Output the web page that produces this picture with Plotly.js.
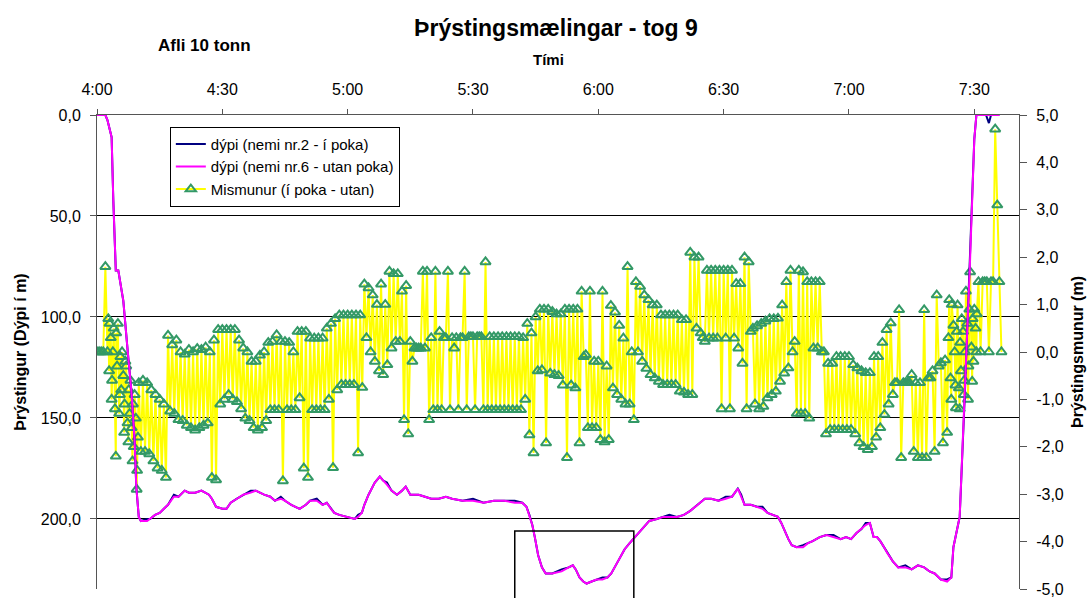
<!DOCTYPE html>
<html>
<head>
<meta charset="utf-8">
<script src="https://cdn.plot.ly/plotly-3.0.1.min.js"></script>
<style>
html,body{margin:0;padding:0;background:#fff;}
#chart{width:1091px;height:598px;}
</style>
</head>
<body>
<div id="chart"></div>
<script>
// ---------- Tick labels ----------
const xTickMin = [0, 30, 60, 90, 120, 150, 180, 210];          // minutes after 4:00
const xTickText = ['4:00', '4:30', '5:00', '5:30', '6:00', '6:30', '7:00', '7:30'];
const depthTickVals = [0, 50, 100, 150, 200];
const depthTickText = ['0,0', '50,0', '100,0', '150,0', '200,0'];
const diffTickVals = [5, 4, 3, 2, 1, 0, -1, -2, -3, -4, -5];
const diffTickText = ['5,0', '4,0', '3,0', '2,0', '1,0', '0,0', '-1,0', '-2,0', '-3,0', '-4,0', '-5,0'];

// ---------- Depth series (minutes after 4:00, depth in m) ----------
const depthMin = [
  0, 2, 2.5, 3.1, 3.5, 3.9, 4.5, 5.1, 5.5, 6.3,
  7.4, 8.2, 9.0, 9.4, 10, 10.5, 12, 12.7, 13.9, 15,
  16, 17, 18.4, 19.5, 21, 22, 23.5, 25, 26.8, 27.5,
  28.5, 30, 31, 32, 33.5, 35, 36.8, 38, 40, 41.5,
  42.6, 44, 45, 46.5, 48.5, 50, 51, 52.6, 54, 55,
  56, 56.8, 58, 60, 61.7, 62.5, 63.4, 64, 65, 66.5,
  67.7, 68.5, 69.4, 70.5, 71.8, 73, 73.9, 75, 75.6, 77,
  78.5, 80, 81.8, 83.5, 85, 87.5, 90, 92.5, 95, 97.5,
  100, 101.8, 102.8, 103.5, 104.2, 104.8, 105.6, 106.5, 107.4, 109,
  111.2, 112.9, 113.9, 114.6, 115.5, 116.4, 117.2, 118.4, 119.6, 121,
  122.2, 123.1, 123.9, 125, 126.3, 127.5, 128.8, 130.5, 132.2, 134,
  135.5, 137, 138.8, 140.5, 142, 143.8, 145.5, 147, 148.8, 150.5,
  152, 153.4, 154.2, 155, 156.5, 158, 159.3, 160.5, 161.8, 163,
  163.8, 164.6, 165.5, 166.3, 167.5, 169, 170.2, 171.3, 173, 174.6,
  176.3, 178, 179.3, 180.5, 181.8, 183, 184, 185, 185.9, 186.7,
  187.5, 188.4, 189.2, 190.5, 191.8, 193.5, 195, 196.5, 198, 199.3,
  200.5, 202, 203.5, 204.5, 205, 206.5, 207.7, 208.9, 210, 210.5,
  212.8, 213.5, 214, 216
];
// nemi nr.2 (í poka) - navy
const depthNemi2 = [
  0, 0, 2.5, 8, 11, 42, 77, 77, 82, 92,
  118, 136, 161, 184, 199, 201, 200, 200, 198, 197,
  195, 193, 188, 189, 186, 187, 187, 186, 188, 190,
  194, 195, 195, 192, 190, 188, 186, 186, 188, 189,
  191, 189, 191, 193, 195, 193, 191, 190, 193, 192,
  195, 197, 198, 199, 200, 198, 197, 193, 188, 182,
  179, 181, 182, 186, 188, 186, 184, 188, 188, 188,
  189, 190, 190, 189, 190, 191, 190, 192, 191, 191,
  191, 192, 194, 198, 203, 209, 218, 224, 227, 227,
  225, 224, 223, 225, 229, 231, 232, 231, 230, 229,
  229, 227, 224, 220, 215, 212, 209, 205, 201, 200,
  199, 198, 199, 198, 196, 193, 190, 190, 191, 189,
  189, 185, 188, 193, 193, 194, 194, 197, 198, 199,
  202, 206, 210, 213, 214, 213, 212, 211, 209, 208,
  208, 210, 209, 210, 207, 205, 202, 202, 209, 209,
  211, 214, 217, 221, 224, 223, 225, 223, 224, 226,
  227, 230, 230, 229, 214, 199, 140, 77, 12, 0,
  0, 4, 0, 0
];
// nemi nr.6 (utan poka) - magenta
const depthNemi6 = [
  0, 0, 2.5, 8, 11, 42, 77, 77, 82, 92,
  118, 136, 161, 184, 199, 201, 201, 200, 198, 197,
  195, 193, 189, 189, 186, 187, 187, 186, 188, 190,
  194, 195, 195, 192, 190, 188, 187, 186, 188, 189,
  191, 190, 191, 193, 195, 193, 191, 191, 193, 192,
  195, 197, 198, 199, 200, 199, 197, 193, 188, 182,
  179, 181, 183, 186, 188, 186, 184, 188, 188, 188,
  189, 190, 190, 189, 190, 191, 191, 192, 191, 191,
  192, 192, 194, 198, 203, 209, 218, 224, 227, 227,
  226, 224, 223, 225, 229, 231, 232, 231, 230, 230,
  229, 227, 224, 220, 215, 212, 209, 205, 201, 200,
  199, 199, 199, 198, 196, 193, 190, 190, 191, 190,
  189, 185, 189, 193, 193, 194, 195, 197, 198, 199,
  202, 206, 210, 213, 214, 214, 212, 211, 209, 208,
  209, 210, 209, 210, 207, 205, 203, 202, 209, 209,
  211, 214, 217, 221, 224, 224, 225, 223, 224, 226,
  227, 230, 231, 229, 214, 199, 140, 77, 12, 0,
  0, 0, 0, 0
];

// ---------- Mismunur (í poka - utan), right axis ----------
// read once per minute from 4:00; the reading alternates between an
// upper reading (mmHi) and a lower reading (mmLo) half a minute later
const mmStartMin = 0;
const mmStepMin = 1;
const mmHi = [
  0, 0, 1.8, 0.6, 0.5, 0.6, 0.0, -0.3, -0.6, -0.9,
  -0.65, -0.6, -0.65, -0.8, -0.9, -1.0, -1.1, 0.35, 0.15, 0.25,
  0.0, -0.05, 0.05, 0.0, 0.07, 0.05, 0.1, 0.0, 0.25, 0.47,
  0.47, 0.47, 0.47, 0.47, 0.25, 0.08, 0.0, -0.2, -0.2, -0.07,
  0.0, 0.2, 0.22, 0.36, 0.22, 0.22, 0.2, 0.0, 0.43, 0.43,
  0.43, 0.29, 0.29, 0.29, 0.29, 0.5, 0.6, 0.7, 0.78, 0.78,
  0.78, 0.78, 0.78, 0.78, 1.43, 1.35, 1.2, 1.0, 1.43, 1.0,
  1.7, 1.65, 1.65, 1.28, 1.4, 0.22, 0.08, 0.08, 1.7, 1.7,
  0.3, 1.7, 0.43, 0.3, 1.7, 0.3, 0.3, 0.3, 1.7, 0.32,
  0.32, 0.32, 0.32, 1.9, 0.32, 0.32, 0.32, 0.32, 0.32, 0.32,
  0.32, 0.32, 0.3, 0.6, 0.4, 0.74, 0.9, 0.9, 0.9, 0.85,
  0.8, 0.8, 0.9, 0.9, 0.9, 0.9, 1.28, -0.06, 1.28, -0.2,
  -0.2, 1.28, -0.3, 0.98, 0.84, 0.56, 0.29, 1.8, 0.0, 1.48,
  1.38, 1.2, 1.1, 0.99, 0.99, 0.78, 0.78, 0.78, 0.78, 0.78,
  0.68, 0.68, 2.1, 2.0, 2.0, 0.3, 1.72, 1.72, 1.72, 1.72,
  1.72, 1.72, 1.72, 1.44, 1.44, 2.0, 1.9, 0.5, 0.55, 0.6,
  0.65, 0.7, 0.7, 0.71, 0.99, 1.48, 1.72, 0.22, 1.72, 1.69,
  1.48, 1.48, 1.48, 1.48, 0.0, -0.24, -0.24, -0.1, -0.1, -0.1,
  -0.1, -0.27, -0.34, -0.4, -0.44, -0.44, -0.1, -0.1, 0.2, 0.47,
  0.61, -0.65, 0.89, -0.65, -0.65, -0.48, -0.65, -0.65, 0.89, -0.55,
  -0.4, 1.2, -0.23, -0.17, 1.1, 0.56, 0.99, 0.7, 1.28, 1.69,
  0.9, 1.48, 1.48, 1.48, 1.48, 4.7, 1.48
];
const mmLo = [
  0, 0, 0, -1.0, -2.2, -0.9, -1.7, -1.9, -2.3, -2.9,
  -2.1, -2.1, -2.15, -2.3, -2.45, -2.5, -2.65, -1.25, -1.3, -1.43,
  -1.45, -1.55, -1.6, -1.65, -1.6, -1.55, -1.5, -2.65, -2.7, -1.1,
  -1.0, -0.9, -1.0, -1.05, -1.2, -1.4, -1.45, -1.6, -1.65, -1.6,
  -1.45, -1.22, -1.22, -1.22, -2.72, -1.22, -1.22, -1.22, -0.97, -2.45,
  -2.65, -1.22, -1.22, -1.22, -1.22, -1.0, -2.44, -0.8, -0.69, -0.69,
  -0.69, -0.69, -2.13, -0.75, 0.3, 0.0, -0.2, -0.4, -0.48, -0.27,
  0.08, 0.22, 0.22, -1.43, -1.73, -0.2, 0.08, 0.08, 0.08, -1.43,
  -1.22, -1.22, -1.22, 0.3, -1.22, 0.08, -1.22, 0.3, -1.22, 0.32,
  -1.22, 0.32, -1.22, -1.22, -1.22, -1.22, -1.22, -1.22, -1.22, -1.22,
  -1.22, -1.22, -1.0, -1.75, -2.13, -0.4, -0.38, -1.92, -0.45, -0.48,
  -0.5, -0.7, -2.23, -0.7, -0.76, -1.92, -0.1, -1.6, -1.6, -1.6,
  -1.85, -1.9, -1.85, -0.76, -0.9, -1.0, -1.1, -1.1, -1.43, 0.0,
  -0.2, -0.35, -0.48, -0.55, -0.62, -0.69, -0.69, -0.69, -0.69, -0.83,
  -0.85, -0.9, -0.9, 0.5, 0.4, 0.22, 0.29, 0.29, 0.29, -1.2,
  0.29, -1.2, 0.29, 0.08, -0.24, -1.2, 0.43, -1.1, -1.2, -1.15,
  -0.97, -0.9, -0.83, -0.62, -0.45, -0.34, 0.0, -1.3, -1.3, -1.3,
  -1.4, 0.08, 0.08, 0.0, -1.73, -1.64, -1.64, -1.64, -1.64, -1.64,
  -1.64, -1.73, -1.92, -2.0, -2.06, -2.0, -1.8, -1.6, -1.32, -1.1,
  -0.9, -0.65, -2.23, -0.65, -0.65, -2.1, -2.23, -2.23, -2.23, -0.55,
  -2.1, -0.3, -1.92, -1.7, -1.0, -0.7, -1.2, -0.9, -1.0, -0.62,
  0.0, 0.0, 1.48, 0.0, 1.48, 3.1, 0.0
];
// extra readings in the two noisy stretches (descent and haul-back)
const mmExtraMin = [
  2.7, 2.9, 3.3, 3.6, 3.8, 4.3, 4.6, 4.8, 5.3, 5.6, 5.8, 6.3, 6.6, 6.8, 7.3, 7.6, 7.8, 8.3, 8.6, 8.8, 9.3, 9.6, 9.8,
  203.8, 204.3, 204.6, 205.3, 205.6, 205.8, 206.3, 206.6, 206.8, 207.3, 207.6, 207.8, 208.3, 208.6, 208.8, 209.3, 209.6, 209.8, 210.3, 210.6
];
const mmExtraVal = [
  0.7, -0.4, 0.3, -0.6, 0.0, -1.2, 0.4, -0.3, -1.3, -0.1, -0.8, -0.5, -1.1, -0.2, -1.5, -0.8, -1.3, -1.6, -1.1, -2.0, -1.4, -2.5, -1.8,
  0.3, -0.55, 1.0, 0.0, -1.18, 0.43, -0.76, 0.2, -0.4, 0.43, -0.6, 0.0, 0.6, -0.3, 0.9, 0.1, 0.7, -0.2, 0.5, 0.8
];

// ---------- build the Mismunur sequence ----------
const mmPts = [];
const nMM = Math.min(mmHi.length, mmLo.length);
for (let i = 0; i < nMM; i++) {
  const t = mmStartMin + i * mmStepMin;
  mmPts.push([t, mmHi[i]]);
  mmPts.push([t + mmStepMin / 2, mmLo[i]]);
}
for (let i = 0; i < Math.min(mmExtraMin.length, mmExtraVal.length); i++) {
  mmPts.push([mmExtraMin[i], mmExtraVal[i]]);
}
mmPts.sort((a, b) => a[0] - b[0]);

const FONT = 'Liberation Sans, Arial, Helvetica, sans-serif';

const traces = [
  {
    name: 'dýpi (nemi nr.2 - í poka)',
    x: depthMin, y: depthNemi2, yaxis: 'y2',
    type: 'scatter', mode: 'lines',
    line: {color: '#000080', width: 2}
  },
  {
    name: 'dýpi (nemi nr.6 - utan poka)',
    x: depthMin, y: depthNemi6, yaxis: 'y2',
    type: 'scatter', mode: 'lines',
    line: {color: '#FF00FF', width: 2}
  },
  {
    name: 'Mismunur (í poka - utan)',
    x: mmPts.map(p => p[0]), y: mmPts.map(p => p[1]), yaxis: 'y',
    type: 'scatter', mode: 'lines+markers',
    line: {color: '#FFFF00', width: 2},
    marker: {symbol: 'triangle-up-open', size: 9, color: '#339966', line: {width: 2, color: '#339966'}}
  }
];

const layout = {
  width: 1091, height: 598,
  margin: {l: 97, r: 72, t: 115, b: 9, pad: 0},
  paper_bgcolor: '#ffffff', plot_bgcolor: '#ffffff',
  font: {family: FONT, size: 16, color: '#000000'},
  separators: ', ',
  title: {
    text: '<b>Þrýstingsmælingar - tog 9</b>',
    font: {family: FONT, size: 23, color: '#000'},
    xref: 'container', x: 0.5096, xanchor: 'center',
    yref: 'container', y: 1 - 28 / 598, yanchor: 'middle'
  },
  showlegend: true,
  legend: {
    x: 0.079, y: 0.975, xanchor: 'left', yanchor: 'top',
    bgcolor: '#ffffff', bordercolor: '#000000', borderwidth: 1,
    font: {family: FONT, size: 15, color: '#000'}
  },
  xaxis: {
    range: [0, 220.7], side: 'top', anchor: 'y',
    tickmode: 'array', tickvals: xTickMin, ticktext: xTickText,
    ticks: 'outside', ticklen: 5, tickcolor: '#555', ticklabelstandoff: 8,
    tickfont: {family: FONT, size: 16},
    showline: true, linecolor: '#555', linewidth: 1,
    showgrid: false, zeroline: false
  },
  yaxis: {
    range: [-5, 5], side: 'right', anchor: 'x',
    tickmode: 'array', tickvals: diffTickVals, ticktext: diffTickText,
    ticks: 'outside', ticklen: 7, tickcolor: '#555', ticklabelstandoff: 6,
    tickfont: {family: FONT, size: 16},
    showline: true, linecolor: '#555', linewidth: 1,
    showgrid: false, zeroline: false,
    title: {text: '<b>Þrýstingsmunur (m)</b>', font: {family: FONT, size: 16}, standoff: 8}
  },
  yaxis2: {
    overlaying: 'y', side: 'left', anchor: 'x',
    range: [234.7, 0],
    tickmode: 'array', tickvals: depthTickVals, ticktext: depthTickText,
    ticks: 'outside', ticklen: 6, tickcolor: '#555', ticklabelstandoff: 6,
    tickfont: {family: FONT, size: 16},
    showline: true, linecolor: '#555', linewidth: 1,
    showgrid: true, gridcolor: '#000000', gridwidth: 1, zeroline: false,
    title: {text: '<b>Þrýstingur (Dýpi í m)</b>', font: {family: FONT, size: 16}, standoff: 10}
  },
  shapes: [{
    type: 'rect', xref: 'x', yref: 'paper',
    x0: 100, x1: 128.5, y0: -0.1, y1: 0.1224,
    line: {color: '#000000', width: 1.5}, fillcolor: 'rgba(0,0,0,0)'
  }],
  annotations: [
    {
      text: '<b>Afli 10 tonn</b>', xref: 'paper', yref: 'paper',
      x: 0.1171, y: 1.1456, xanchor: 'center', yanchor: 'middle',
      showarrow: false, font: {family: FONT, size: 17, color: '#000'}
    },
    {
      text: '<b>Tími</b>', xref: 'paper', yref: 'paper',
      x: (548 - 97) / 922, y: (589 - 60) / 474, xanchor: 'center', yanchor: 'middle',
      showarrow: false, font: {family: FONT, size: 15, color: '#000'}
    }
  ]
};

Plotly.newPlot('chart', traces, layout, {staticPlot: true, displayModeBar: false});
</script>
</body>
</html>
